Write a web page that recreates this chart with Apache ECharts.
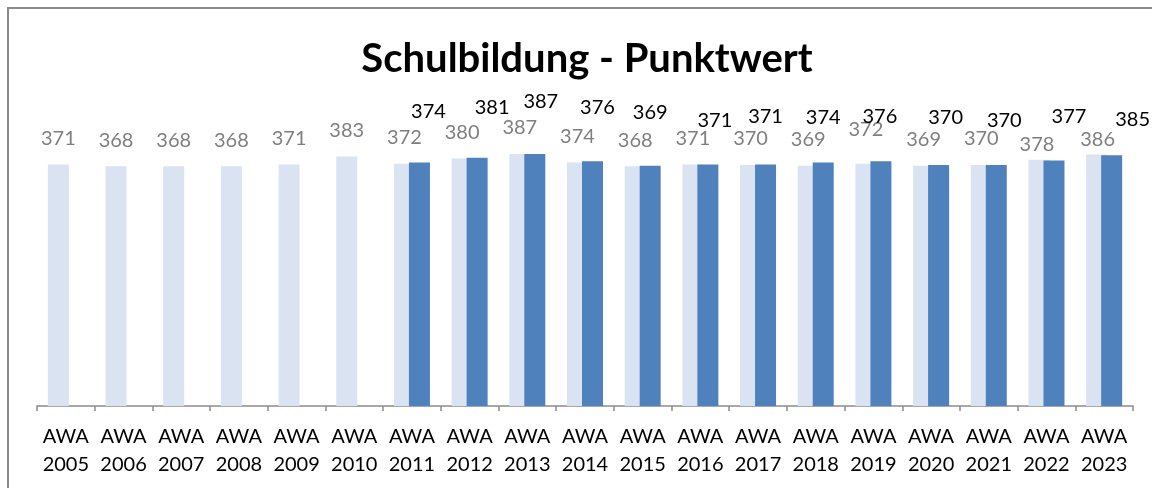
<!DOCTYPE html>
<html>
<head>
<meta charset="utf-8">
<script src="https://cdn.jsdelivr.net/npm/echarts@6/dist/echarts.min.js"></script>
<style>html,body{margin:0;padding:0;background:#fff;}#c{width:1152px;height:488px;}</style>
</head>
<body>
<div id="c"></div>
<script>
const categories = ["AWA\n2005","AWA\n2006","AWA\n2007","AWA\n2008","AWA\n2009","AWA\n2010","AWA\n2011","AWA\n2012","AWA\n2013","AWA\n2014","AWA\n2015","AWA\n2016","AWA\n2017","AWA\n2018","AWA\n2019","AWA\n2020","AWA\n2021","AWA\n2022","AWA\n2023"];
const lightValues = [371,368,368,368,371,383,372,380,387,374,368,371,370,369,372,369,370,378,386];
const darkValues = [null,null,null,null,null,null,374,381,387,376,369,371,371,374,376,370,370,377,385];

// label nudges (styling only, not data)
const lightLabelShift = [[0,0],[0,0],[0,0],[0,0],[0,0],[0,0],[0,0],[0,0],[0,0],[0,0],[0,0],[0,0],[0,0],[0,0],[0,-8],[0,0],[0,0],[-2,11],[1,11]];
const darkLabelShift = [null,null,null,null,null,null,[9,-3],[15,-2],[6,-4],[5,-6],[0,-5],[7,4],[0,0],[0,3],[-1,3],[7,1],[8,4],[15,4],[21,12]];

const FONT = 'Lato, "Open Sans", sans-serif';

const lightData = lightValues.map((v, i) => ({
  value: v,
  label: { offset: lightLabelShift[i] }
}));
const darkData = darkValues.map((v, i) => ({
  value: v,
  label: { offset: darkLabelShift[i] || [0,0] }
}));

const chart = echarts.init(document.getElementById('c'), null, {renderer: 'canvas'});
chart.setOption({
  animation: false,
  backgroundColor: '#ffffff',
  title: {
    text: 'Schulbildung - Punktwert',
    left: 582,
    top: 34,
    textAlign: 'center',
    textStyle: { fontFamily: FONT, fontWeight: 'bold', fontSize: 40, color: '#000000' }
  },
  graphic: [{
    type: 'rect',
    shape: { x: 8, y: 8, width: 1300, height: 700 },
    style: { fill: 'none', stroke: '#8a8a8a', lineWidth: 2 },
    silent: true
  }],
  grid: { left: 37, right: 19, top: 145.5, bottom: 82 },
  xAxis: {
    type: 'category',
    data: categories,
    axisLine: { lineStyle: { color: '#8c8c8c', width: 1.5 } },
    axisTick: { show: true, length: 5, lineStyle: { color: '#8c8c8c', width: 1.5 } },
    axisLabel: { fontFamily: FONT, fontSize: 20, color: '#000000', lineHeight: 28, margin: 17, interval: 0 }
  },
  yAxis: {
    type: 'value', min: 0, max: 400, show: false,
    splitLine: { show: false }
  },
  series: [
    {
      name: 'light', type: 'bar', data: lightData,
      barWidth: 21, barGap: '-28.6%',
      itemStyle: { color: '#dae3f1' },
      label: { show: true, position: 'top', distance: 16, fontFamily: FONT, fontSize: 20, color: '#7f7f7f' }
    },
    {
      name: 'dark', type: 'bar', data: darkData,
      barWidth: 21,
      itemStyle: { color: '#4f81bd' },
      label: { show: true, position: 'top', distance: 38, fontFamily: FONT, fontSize: 20, color: '#000000' }
    }
  ]
});
</script>
</body>
</html>
